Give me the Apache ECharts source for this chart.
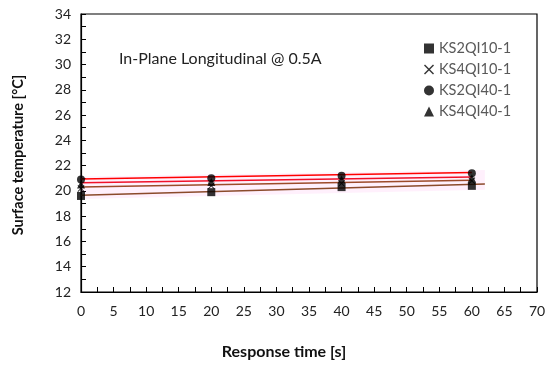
<!DOCTYPE html>
<html><head><meta charset="utf-8">
<script src="https://cdn.jsdelivr.net/npm/echarts@6/dist/echarts.min.js"></script>
<style>html,body{margin:0;padding:0;background:#fff}#c{width:550px;height:367px}</style>
</head><body><div id="c"></div>
<script>
var times = [0, 20, 40, 60];
var names = ['KS2QI10-1', 'KS4QI10-1', 'KS2QI40-1', 'KS4QI40-1'];
var ks2qi10 = [19.6, 19.9, 20.3, 20.4];
var ks4qi10 = [20.2, 20.4, 20.6, 20.8];
var ks2qi40 = [20.9, 21.0, 21.2, 21.4];
var ks4qi40 = [20.5, 20.7, 20.9, 21.0];
// trend line endpoints
var trendX = [0, 60];
var trendX2 = [0, 62];
var trend2qi10 = [19.65, 20.55];
var trend4qi10 = [20.3, 20.85];
var trend2qi40 = [20.95, 21.45];
var trend4qi40 = [20.65, 21.1];
var bandLow = [19.35, 20.1];
var bandHigh = [21.15, 21.65];
var yTicks = [12, 34, 2];
var xTicks = [0, 70, 5];

function pts(xs, ys){ return xs.map(function(x,i){return [x, ys[i]];}); }
var crossPath = 'path://M1,0L5,4L9,0L10,1L6,5L10,9L9,10L5,6L1,10L0,9L4,5L0,1Z';
var font = 'Lato, "Open Sans", sans-serif';
var chart = echarts.init(document.getElementById('c'));
var scatterBase = {type:'scatter', symbolSize:8, itemStyle:{color:'#000'}, clip:false, z:5};
var bandData = [[trendX2[0], bandLow[0], bandHigh[0], trendX2[1], bandLow[1], bandHigh[1]]];
chart.setOption({
  animation:false,
  textStyle:{fontFamily:font},
  grid:{left:81, right:13, top:14, bottom:75, show:true, borderColor:'#000', borderWidth:1.2},
  legend:{orient:'vertical', left:419, top:36, itemGap:6, itemWidth:10, itemHeight:10,
    textStyle:{fontFamily:font, fontSize:14.5, color:'#595959'},
    data:[{name:names[0], icon:'rect'},{name:names[1], icon:crossPath},{name:names[2], icon:'circle'},{name:names[3], icon:'triangle'}]},
  graphic:[
    {type:'text', left:119, top:51, style:{text:'In-Plane Longitudinal @ 0.5A', font:'16px '+font, fill:'#222'}},
    {type:'text', x:284, y:352, style:{text:'Response time [s]', font:'bold 16px '+font, fill:'#111', align:'center', verticalAlign:'middle'}},
    {type:'text', x:18, y:155, rotation:Math.PI/2, style:{text:'Surface temperature [°C]', font:'bold 14.5px '+font, fill:'#111', align:'center', verticalAlign:'middle'}}
  ],
  xAxis:{type:'value', min:xTicks[0], max:xTicks[1], interval:xTicks[2],
    axisLine:{lineStyle:{color:'#000', width:1.2}},
    axisTick:{inside:true, length:5, lineStyle:{color:'#000'}},
    minorTick:{show:true, splitNumber:2, length:5, lineStyle:{color:'#000'}},
    axisLabel:{fontSize:14, color:'#222', margin:12, fontFamily:font},
    splitLine:{show:false}},
  yAxis:{type:'value', min:yTicks[0], max:yTicks[1], interval:yTicks[2],
    axisLine:{lineStyle:{color:'#000', width:1.2}},
    axisTick:{inside:true, length:5, lineStyle:{color:'#000'}},
    minorTick:{show:true, splitNumber:2, length:5, lineStyle:{color:'#000'}},
    axisLabel:{fontSize:14, color:'#222', margin:10, fontFamily:font},
    splitLine:{show:false}},
  series:[
    {type:'custom', silent:true, z:1, data:bandData,
      renderItem:function(params, api){
        var a = api.coord([api.value(0), api.value(1)]);
        var b = api.coord([api.value(3), api.value(4)]);
        var c = api.coord([api.value(3), api.value(5)]);
        var d = api.coord([api.value(0), api.value(2)]);
        return {type:'polygon', shape:{points:[a,b,c,d]}, style:{fill:'rgba(255,0,200,0.06)'}};
      }},
    {type:'line', data:pts(trendX2, trend2qi10), symbol:'none', lineStyle:{color:'#8B4A2B', width:1.5}, z:3},
    {type:'line', data:pts(trendX, trend4qi10), symbol:'none', lineStyle:{color:'#9C4A2A', width:1.5}, z:3},
    {type:'line', data:pts(trendX, trend4qi40), symbol:'none', lineStyle:{color:'#F0102A', width:1.5}, z:3},
    {type:'line', data:pts(trendX, trend2qi40), symbol:'none', lineStyle:{color:'#FF0000', width:1.5}, z:3},
    Object.assign({}, scatterBase, {name:names[0], symbol:'rect', data:pts(times, ks2qi10)}),
    Object.assign({}, scatterBase, {name:names[1], symbol:crossPath, symbolSize:7, data:pts(times, ks4qi10)}),
    Object.assign({}, scatterBase, {name:names[2], symbol:'circle', data:pts(times, ks2qi40)}),
    Object.assign({}, scatterBase, {name:names[3], symbol:'triangle', data:pts(times, ks4qi40)})
  ]
});
</script></body></html>
